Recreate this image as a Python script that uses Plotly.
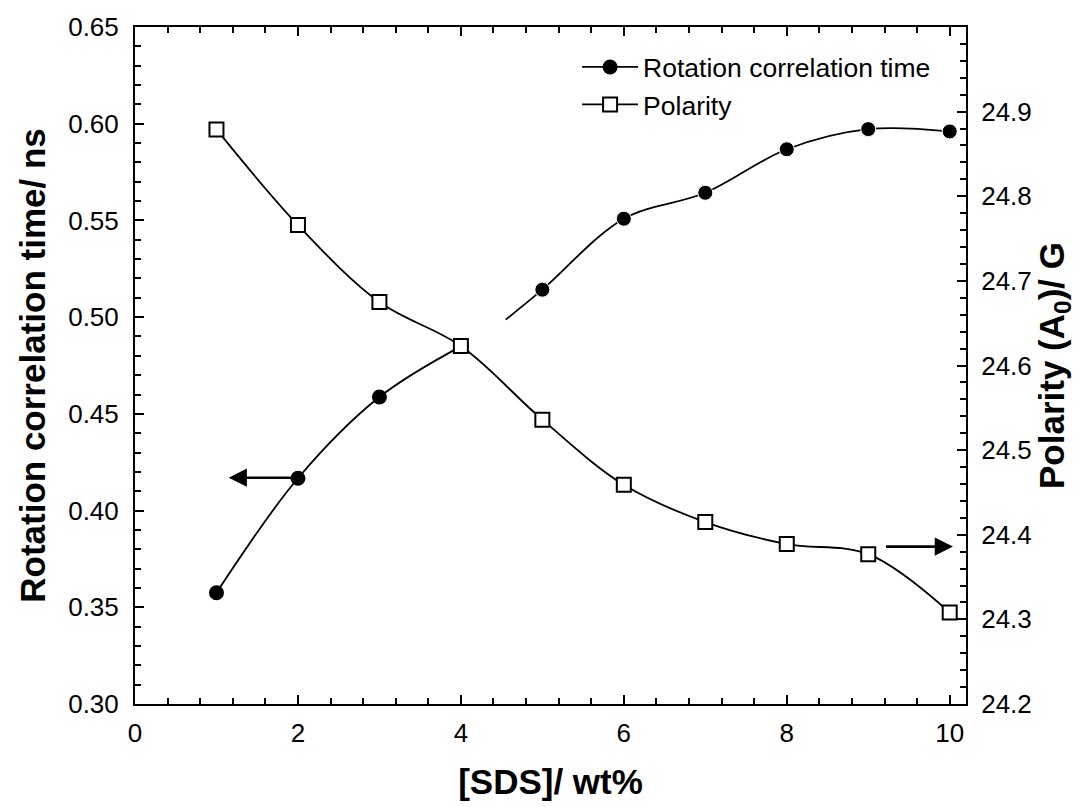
import plotly.graph_objects as go

# ---- data ----
sds = [1, 2, 3, 4, 5, 6, 7, 8, 9, 10]
rot_time = [0.3575, 0.4167, 0.4587, 0.4849, 0.5142, 0.5509, 0.5643, 0.5868, 0.5972, 0.5960]
polarity = [24.879, 24.766, 24.675, 24.623, 24.536, 24.459, 24.415, 24.389, 24.377, 24.308]
# start of the second (broken) curve segment of rotation time
rot_seg2_start_x = 4.55
rot_seg2_start_y = 0.4987
# indicator arrows (tail -> head)
left_arrow = dict(x_head=1.15, x_tail=1.98, y=0.417)
right_arrow = dict(x_head=10.04, x_tail=9.20, y=24.386)

FONT = "Liberation Sans, Arial, sans-serif"
TICK_SIZE = 26
TITLE_SIZE = 35

fig = go.Figure()

# rotation correlation time: first segment (1..4)
fig.add_trace(go.Scatter(
    x=sds[:4], y=rot_time[:4], mode="lines+markers",
    name="Rotation correlation time",
    line=dict(color="black", width=1.8, shape="spline"),
    marker=dict(symbol="circle", size=15, color="black", opacity=1),
    yaxis="y"))
# second segment (from break point through 5..10)
seg2_x = [rot_seg2_start_x] + sds[4:]
seg2_y = [rot_seg2_start_y] + rot_time[4:]
fig.add_trace(go.Scatter(
    x=seg2_x, y=seg2_y, mode="lines+markers", showlegend=False,
    line=dict(color="black", width=1.8, shape="spline"),
    marker=dict(symbol="circle", size=[0] + [15] * (len(seg2_x) - 1),
                color="black", opacity=1),
    yaxis="y"))
# polarity
fig.add_trace(go.Scatter(
    x=sds, y=polarity, mode="lines+markers", name="Polarity",
    line=dict(color="black", width=1.8, shape="spline"),
    marker=dict(symbol="square", size=14, color="white", opacity=1,
                line=dict(color="black", width=2)),
    yaxis="y2"))

axis_common = dict(
    showline=True, linecolor="black", linewidth=2,
    ticks="inside", ticklen=9, tickwidth=2, tickcolor="black",
    showgrid=False, zeroline=False,
    tickfont=dict(family=FONT, size=TICK_SIZE, color="black"),
)

fig.update_layout(
    width=1084, height=807,
    margin=dict(l=134.5, r=118, t=24, b=102.5),
    plot_bgcolor="white", paper_bgcolor="white",
    font=dict(family=FONT, color="black"),
    xaxis=dict(
        range=[0, 10.2], tickvals=[0, 2, 4, 6, 8, 10], mirror="ticks",
        ticklabelstandoff=5,
        minor=dict(ticks="inside", dtick=0.4, tick0=0, ticklen=6, tickwidth=2, tickcolor="black"),
        title=dict(text="<b>[SDS]/ wt%</b>", font=dict(family=FONT, size=TITLE_SIZE), standoff=22),
        **axis_common),
    yaxis=dict(
        range=[0.30, 0.65], tickvals=[0.30, 0.35, 0.40, 0.45, 0.50, 0.55, 0.60, 0.65],
        tickformat=".2f", ticklabelstandoff=9,
        minor=dict(ticks="inside", dtick=0.01, tick0=0.30, ticklen=6, tickwidth=2, tickcolor="black"),
        title=dict(text="<b>Rotation correlation time/ ns</b>", font=dict(family=FONT, size=TITLE_SIZE), standoff=12),
        **axis_common),
    yaxis2=dict(
        range=[24.2, 25.0], overlaying="y", side="right", anchor="x",
        tickvals=[24.2, 24.3, 24.4, 24.5, 24.6, 24.7, 24.8, 24.9], tickformat=".1f",
        ticklabelstandoff=8,
        minor=dict(ticks="inside", dtick=0.02, tick0=24.2, ticklen=6, tickwidth=2, tickcolor="black"),
        title=dict(text="<b>Polarity (A<sub>0</sub>)/ G</b>", font=dict(family=FONT, size=TITLE_SIZE), standoff=2),
        **axis_common),
    legend=dict(x=0.532, y=0.976, xanchor="left", yanchor="top",
                bgcolor="rgba(0,0,0,0)", borderwidth=0,
                font=dict(family=FONT, size=26.5, color="black"),
                itemsizing="trace", itemwidth=56, tracegroupgap=0),
    showlegend=True,
)

fig.add_annotation(x=left_arrow["x_head"], y=left_arrow["y"], xref="x", yref="y",
                   ax=left_arrow["x_tail"], ay=left_arrow["y"], axref="x", ayref="y",
                   showarrow=True, arrowhead=2, arrowsize=1.4, arrowwidth=2.6,
                   arrowcolor="black", text="")
fig.add_annotation(x=right_arrow["x_head"], y=right_arrow["y"], xref="x", yref="y2",
                   ax=right_arrow["x_tail"], ay=right_arrow["y"], axref="x", ayref="y2",
                   showarrow=True, arrowhead=2, arrowsize=1.4, arrowwidth=2.6,
                   arrowcolor="black", text="")

fig.write_html("out.html")
